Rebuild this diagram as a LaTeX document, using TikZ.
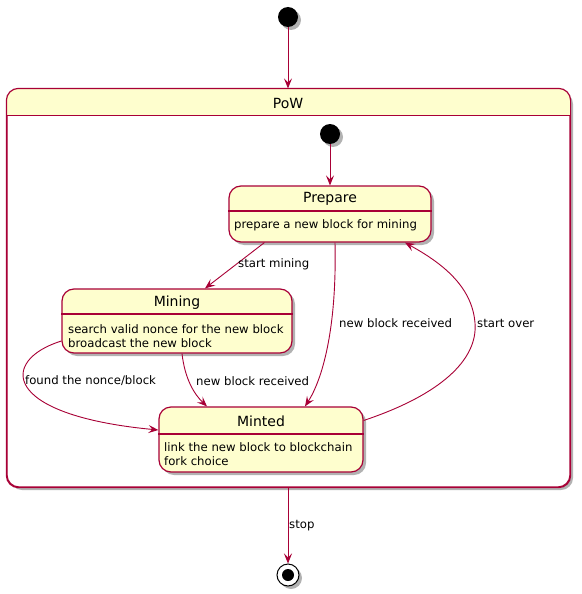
\documentclass[tikz,border=0pt]{standalone}
\usepackage{fontspec}
\setmainfont{DejaVu Sans}
\usetikzlibrary{arrows.meta,shadows}
\definecolor{bord}{HTML}{A80036}
\definecolor{sfill}{HTML}{FEFECE}
\begin{document}
\begin{tikzpicture}[x=1pt,y=-1pt,
  state/.style={draw=bord, fill=sfill, line width=1.2pt, rounded corners=12pt, inner sep=0pt,
    drop shadow={shadow xshift=3pt,shadow yshift=-3pt,opacity=0.3,fill=black}},
  arr/.style={draw=bord, line width=0.9pt, -{Stealth[length=10pt,width=8pt,inset=4pt]}},
  sep/.style={draw=bord, line width=1.2pt},
  ttl/.style={font=\fontsize{14}{16}\selectfont, inner sep=0pt},
  body/.style={font=\fontsize{11.7}{14}\selectfont, anchor=west, inner sep=0pt},
  lbl/.style={font=\fontsize{11.7}{14}\selectfont, anchor=west, inner sep=0pt}]
\useasboundingbox (0,0) rectangle (581,594);

% outer composite state
\node[state, fill=white, minimum width=563pt, minimum height=398pt] (pow) at (288.5,288) {};
\begin{scope}
  \clip (pow.north west) rectangle ([yshift=-27pt]pow.north east);
  \fill[sfill, rounded corners=12pt] (pow.north west) rectangle (pow.south east);
\end{scope}
\draw[sep, rounded corners=12pt] (pow.north west) rectangle (pow.south east);
\draw[sep] ([yshift=-27pt]pow.north west) -- ([yshift=-27pt]pow.north east);
\node[ttl] (powt) at (288,103) {PoW};

% initial states
\node[circle, fill=black, minimum size=20pt, inner sep=0pt,
  drop shadow={shadow xshift=3pt,shadow yshift=-3pt,opacity=0.3,fill=black}] (init) at (288,17) {};
\node[circle, fill=black, minimum size=20pt, inner sep=0pt,
  drop shadow={shadow xshift=3pt,shadow yshift=-3pt,opacity=0.3,fill=black}] (pinit) at (330,134) {};

% Prepare
\node[state, minimum width=202pt, minimum height=56pt] (prepare) at (330,214) {};
\draw[sep] (prepare.west |- 0,211) -- (prepare.east |- 0,211);
\node[ttl] (prept) at (330,199) {Prepare};
\node[body] (prepb) at (234,225) {prepare a new block for mining};

% Mining
\node[state, minimum width=230pt, minimum height=64pt] (mining) at (177,321) {};
\draw[sep] (mining.west |- 0,314) -- (mining.east |- 0,314);
\node[ttl] (mint) at (177,303) {Mining};
\node[body] (minb1) at (68,329) {search valid nonce for the new block};
\node[body] (minb2) at (68,343) {broadcast the new block};

% Minted
\node[state, minimum width=204pt, minimum height=65pt] (minted) at (261,439.5) {};
\draw[sep] (minted.west |- 0,434) -- (minted.east |- 0,434);
\node[ttl] (mintedt) at (261,421) {Minted};
\node[body] (mintedb1) at (164,447) {link the new block to blockchain};
\node[body] (mintedb2) at (164,461) {fork choice};

% final state
\node[circle, draw=black, fill=white, line width=1pt, minimum size=22pt, inner sep=0pt,
  drop shadow={shadow xshift=3pt,shadow yshift=-3pt,opacity=0.3,fill=black}] (fin) at (288,575) {};
\node[circle, fill=black, minimum size=12pt, inner sep=0pt] (fini) at (fin) {};

% transitions
\draw[arr] (init) -- (init |- pow.north);
\draw[arr] (pinit) -- (pinit |- prepare.north);
\draw[arr] ([xshift=36pt]prepare.south west) -- ([xshift=28pt]mining.north);
\node[lbl] (l1) at (238,264) {start mining};
\draw[arr] ([xshift=5pt]prepare.south) .. controls (337,330) and (322,380) .. ([xshift=44pt]minted.north);
\node[lbl] (l2) at (339,323) {new block received};
\draw[arr] ([yshift=19pt]minted.east) .. controls (440,395) and (478,360) .. (475,323)
  .. controls (472,285) and (440,262) .. ([xshift=75pt]prepare.south);
\node[lbl] (l3) at (477,323) {start over};
\draw[arr] ([yshift=-20pt]mining.west) .. controls (0,360) and (0,415) .. ([yshift=9.5pt]minted.west);
\node[lbl] (l4) at (25,381) {found the nonce/block};
\draw[arr] ([xshift=5pt]mining.south) .. controls (185,380) and (195,395) .. ([xshift=-54pt]minted.north);
\node[lbl] (l5) at (196,381) {new block received};
\draw[arr] (fin |- pow.south) -- (fin);
\node[lbl] (l6) at (289,526) {stop};
\end{tikzpicture}
\end{document}
